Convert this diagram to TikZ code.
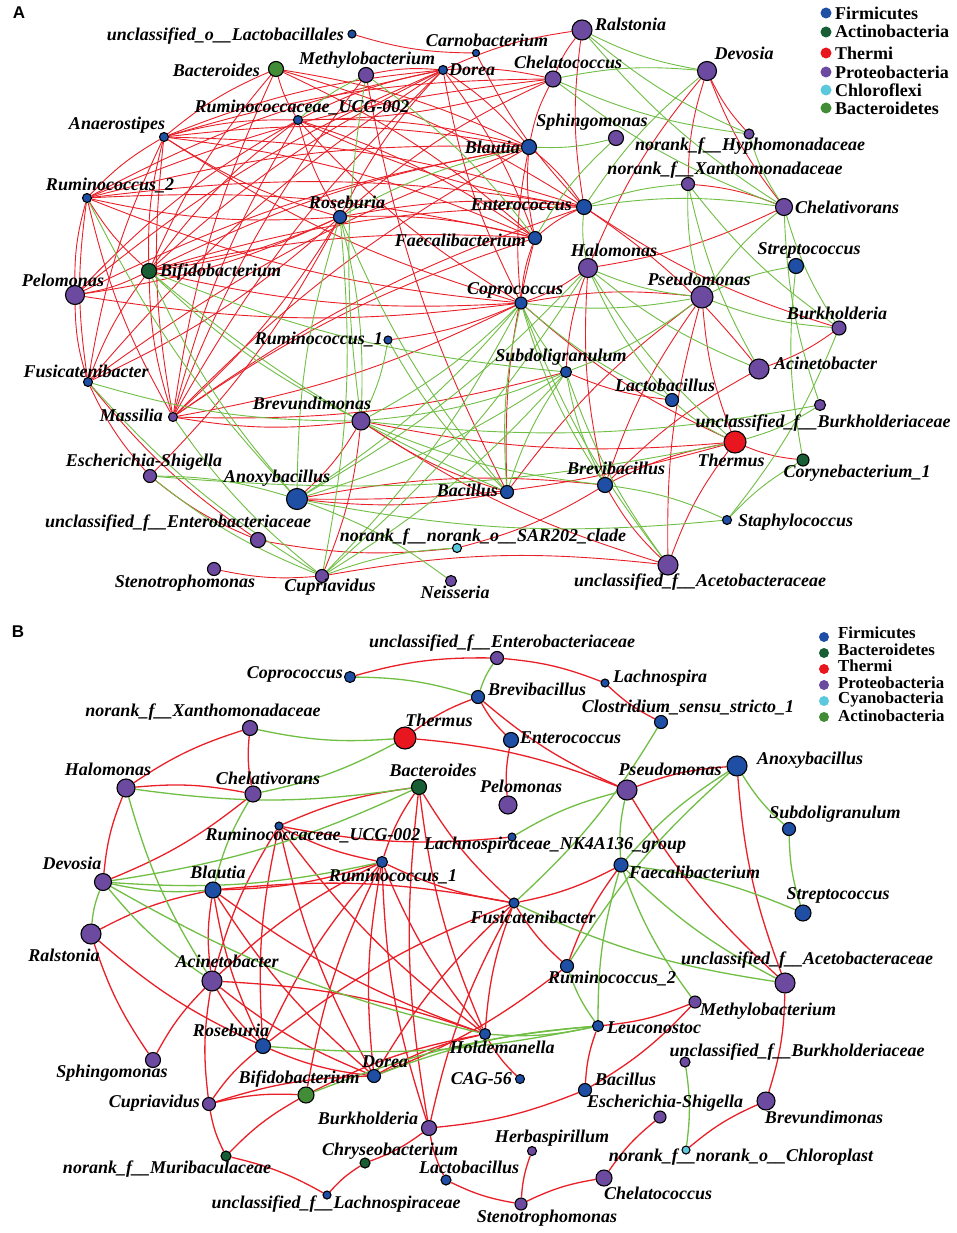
\documentclass[tikz,border=0pt]{standalone}
\usepackage{fontspec}
\setmainfont{Liberation Serif}
\newfontfamily\panelfont{Liberation Sans}
\definecolor{redE}{RGB}{234,32,40}
\definecolor{grnE}{RGB}{112,190,68}
\definecolor{cFir}{RGB}{31,78,165}
\definecolor{cPro}{RGB}{107,74,160}
\definecolor{cThe}{RGB}{232,22,30}
\definecolor{cActD}{RGB}{24,94,52}
\definecolor{cBacL}{RGB}{66,140,56}
\definecolor{cCya}{RGB}{92,200,222}
\pgfdeclarelayer{paper}
\pgfdeclarelayer{edges}
\pgfsetlayers{paper,edges,main}
\tikzset{
 gnode/.style={circle,draw=black,line width=1.1pt,inner sep=0pt},
 fir/.style={gnode,fill=cFir}, pro/.style={gnode,fill=cPro}, the/.style={gnode,fill=cThe},
 actd/.style={gnode,fill=cActD}, bacl/.style={gnode,fill=cBacL}, cya/.style={gnode,fill=cCya},
 lab/.style={font=\fontsize{18}{20}\selectfont\bfseries\itshape, inner sep=0pt},
 leg/.style={font=\fontsize{18}{20}\selectfont\bfseries, inner sep=0pt, anchor=west},
 legb/.style={font=\fontsize{16.8}{17}\selectfont\bfseries, inner sep=0pt, anchor=west},
 ldot/.style={circle,inner sep=0pt,minimum size=11pt},
 plab/.style={font=\panelfont\fontsize{17}{18}\selectfont\bfseries, inner sep=0pt},
 rA/.style={draw=redE,line width=0.9pt,bend right=8},
 gA/.style={draw=grnE,line width=0.9pt,bend right=8},
 rB/.style={draw=redE,line width=1.3pt,bend right=8},
 gB/.style={draw=grnE,line width=1.3pt,bend right=8},
}
\begin{document}
\begin{tikzpicture}[x=1pt,y=-1pt]
\useasboundingbox (0,0) rectangle (957,1233);
\begin{pgfonlayer}{paper}
\fill[white] (0,0) rectangle (957,1233);
\end{pgfonlayer}
\node[plab] (pA) at (19,13) {A};
\node[plab] (pB) at (18,632) {B};
% ---------------- Panel A nodes ----------------
\node[fir,minimum size=8pt] (aLac) at (352,34) {};
\node[fir,minimum size=7pt] (aCarn) at (476,53) {};
\node[bacl,minimum size=15pt] (aBact) at (276,69) {};
\node[pro,minimum size=15pt] (aMeth) at (366,75) {};
\node[fir,minimum size=9pt] (aDor) at (443,70) {};
\node[pro,minimum size=20pt] (aRal) at (582,30) {};
\node[pro,minimum size=16pt] (aChelo) at (553,79) {};
\node[pro,minimum size=19pt] (aDev) at (707,71) {};
\node[pro,minimum size=10pt] (aHyph) at (749,134) {};
\node[pro,minimum size=13pt] (aXan) at (688,184) {};
\node[pro,minimum size=17pt] (aChelv) at (784,207) {};
\node[fir,minimum size=15pt] (aStrep) at (796,266) {};
\node[pro,minimum size=15pt] (aSph) at (616,138) {};
\node[fir,minimum size=15pt] (aBlau) at (529,147) {};
\node[fir,minimum size=15pt] (aEnt) at (584,207) {};
\node[fir,minimum size=13pt] (aFae) at (535,238) {};
\node[pro,minimum size=19pt] (aHal) at (588,268) {};
\node[pro,minimum size=22pt] (aPse) at (702,297) {};
\node[fir,minimum size=12pt] (aCop) at (521,303) {};
\node[pro,minimum size=14pt] (aBur) at (839,328) {};
\node[pro,minimum size=20pt] (aAci) at (759,369) {};
\node[fir,minimum size=11pt] (aSub) at (566,372) {};
\node[fir,minimum size=13pt] (aLacb) at (672,400) {};
\node[pro,minimum size=11pt] (aBurc) at (820,405) {};
\node[the,minimum size=22pt] (aTher) at (735,442) {};
\node[actd,minimum size=12pt] (aCory) at (803,460) {};
\node[fir,minimum size=15pt] (aBrvb) at (605,485) {};
\node[fir,minimum size=13pt] (aBac) at (507,492) {};
\node[fir,minimum size=9pt] (aStaph) at (727,520) {};
\node[pro,minimum size=20pt] (aAcet) at (668,565) {};
\node[pro,minimum size=11pt] (aNeis) at (451,581) {};
\node[cya,minimum size=9pt] (aSAR) at (457,548) {};
\node[pro,minimum size=13pt] (aCup) at (322,576) {};
\node[pro,minimum size=13pt] (aSten) at (214,569) {};
\node[pro,minimum size=15pt] (aEnb) at (258,540) {};
\node[fir,minimum size=21pt] (aAnox) at (297,499) {};
\node[pro,minimum size=13pt] (aEsch) at (150,476) {};
\node[pro,minimum size=9pt] (aMass) at (173,417) {};
\node[pro,minimum size=18pt] (aBrvd) at (361,421) {};
\node[fir,minimum size=9pt] (aFus) at (88,382) {};
\node[fir,minimum size=8pt] (aRum1) at (388,340) {};
\node[pro,minimum size=19pt] (aPel) at (75,295) {};
\node[actd,minimum size=15pt] (aBif) at (149,271) {};
\node[fir,minimum size=13pt] (aRos) at (340,217) {};
\node[fir,minimum size=9pt] (aRum2) at (87,198) {};
\node[fir,minimum size=9pt] (aAna) at (164,137) {};
\node[fir,minimum size=9pt] (aUCG) at (298,120) {};
% ---------------- Panel A labels ----------------
\node[lab,anchor=east] (aLac-l) at (344,36) {unclassified\_o\_\_Lactobacillales};
\node[lab] (aCarn-l) at (487,40) {Carnobacterium};
\node[lab,anchor=east] (aBact-l) at (260,70) {Bacteroides};
\node[lab] (aMeth-l) at (367,60) {Methylobacterium};
\node[lab,anchor=west] (aDor-l) at (449,70) {Dorea};
\node[lab,anchor=west] (aRal-l) at (595,24) {Ralstonia};
\node[lab] (aChelo-l) at (568,62) {Chelatococcus};
\node[lab] (aDev-l) at (744,53) {Devosia};
\node[lab] (aHyph-l) at (750,146) {norank\_f\_\_Hyphomonadaceae};
\node[lab] (aXan-l) at (725,170) {norank\_f\_\_Xanthomonadaceae};
\node[lab,anchor=west] (aChelv-l) at (795,207) {Chelativorans};
\node[lab] (aStrep-l) at (809,250) {Streptococcus};
\node[lab] (aSph-l) at (592,122) {Sphingomonas};
\node[lab,anchor=east] (aBlau-l) at (520,147) {Blautia};
\node[lab,anchor=east] (aEnt-l) at (572,205) {Enterococcus};
\node[lab,anchor=east] (aFae-l) at (526,240) {Faecalibacterium};
\node[lab] (aHal-l) at (614,250) {Halomonas};
\node[lab] (aPse-l) at (699,279) {Pseudomonas};
\node[lab] (aCop-l) at (515,290) {Coprococcus};
\node[lab] (aBur-l) at (837,313) {Burkholderia};
\node[lab,anchor=west] (aAci-l) at (774,363) {Acinetobacter};
\node[lab] (aSub-l) at (561,357) {Subdoligranulum};
\node[lab] (aLacb-l) at (665,385) {Lactobacillus};
\node[lab] (aBurc-l) at (823,423) {unclassified\_f\_\_Burkholderiaceae};
\node[lab] (aTher-l) at (731,460) {Thermus};
\node[lab] (aCory-l) at (857,473) {Corynebacterium\_1};
\node[lab] (aBrvb-l) at (616,468) {Brevibacillus};
\node[lab,anchor=east] (aBac-l) at (498,490) {Bacillus};
\node[lab,anchor=west] (aStaph-l) at (738,522) {Staphylococcus};
\node[lab] (aAcet-l) at (700,582) {unclassified\_f\_\_Acetobacteraceae};
\node[lab] (aNeis-l) at (455,592) {Neisseria};
\node[lab] (aSAR-l) at (483,537) {norank\_f\_\_norank\_o\_\_SAR202\_clade};
\node[lab] (aCup-l) at (330,587) {Cupriavidus};
\node[lab] (aSten-l) at (185,583) {Stenotrophomonas};
\node[lab] (aEnb-l) at (178,523) {unclassified\_f\_\_Enterobacteriaceae};
\node[lab] (aAnox-l) at (277,478) {Anoxybacillus};
\node[lab] (aEsch-l) at (144,462) {Escherichia-Shigella};
\node[lab,anchor=east] (aMass-l) at (163,415) {Massilia};
\node[lab] (aBrvd-l) at (312,403) {Brevundimonas};
\node[lab] (aFus-l) at (86,371) {Fusicatenibacter};
\node[lab,anchor=east] (aRum1-l) at (383,340) {Ruminococcus\_1};
\node[lab] (aPel-l) at (63,280) {Pelomonas};
\node[lab,anchor=west] (aBif-l) at (160,272) {Bifidobacterium};
\node[lab] (aRos-l) at (347,202) {Roseburia};
\node[lab] (aRum2-l) at (110,186) {Ruminococcus\_2};
\node[lab] (aAna-l) at (117,125) {Anaerostipes};
\node[lab] (aUCG-l) at (302,108) {Ruminococcaceae\_UCG-002};
% legend A
\node[ldot,fill=cFir] (lA1) at (826,13) {}; \node[leg] (lA1t) at (835,13) {Firmicutes};
\node[ldot,fill=cActD] (lA2) at (826,32) {}; \node[leg] (lA2t) at (835,31) {Actinobacteria};
\node[ldot,fill=cThe] (lA3) at (826,53) {}; \node[leg] (lA3t) at (835,53) {Thermi};
\node[ldot,fill=cPro] (lA4) at (826,72) {}; \node[leg] (lA4t) at (835,72) {Proteobacteria};
\node[ldot,fill=cCya] (lA5) at (826,90) {}; \node[leg] (lA5t) at (835,90) {Chloroflexi};
\node[ldot,fill=cBacL] (lA6) at (826,108) {}; \node[leg] (lA6t) at (835,108) {Bacteroidetes};
% ---------------- Panel B nodes ----------------
\node[pro,minimum size=13pt] (bEnb) at (497,658) {};
\node[fir,minimum size=11pt] (bCop) at (350,677) {};
\node[fir,minimum size=8pt] (bLachn) at (605,683) {};
\node[fir,minimum size=13pt] (bBrvb) at (478,697) {};
\node[pro,minimum size=15pt] (bXan) at (250,728) {};
\node[the,minimum size=22pt] (bTher) at (405,738) {};
\node[fir,minimum size=13pt] (bClos) at (661,722) {};
\node[fir,minimum size=15pt] (bEnt) at (511,740) {};
\node[pro,minimum size=18pt] (bHal) at (126,788) {};
\node[pro,minimum size=16pt] (bChelv) at (253,794) {};
\node[actd,minimum size=15pt] (bBact) at (419,787) {};
\node[pro,minimum size=18pt] (bPel) at (508,805) {};
\node[pro,minimum size=20pt] (bPse) at (627,790) {};
\node[fir,minimum size=20pt] (bAnox) at (737,766) {};
\node[fir,minimum size=8pt] (bUCG) at (279,826) {};
\node[fir,minimum size=8pt] (bLNK) at (512,837) {};
\node[fir,minimum size=13pt] (bSub) at (789,829) {};
\node[fir,minimum size=11pt] (bRum1) at (382,862) {};
\node[fir,minimum size=14pt] (bFae) at (621,865) {};
\node[pro,minimum size=17pt] (bDev) at (103,882) {};
\node[fir,minimum size=16pt] (bBlau) at (213,890) {};
\node[fir,minimum size=10pt] (bFus) at (514,903) {};
\node[fir,minimum size=16pt] (bStrep) at (803,913) {};
\node[pro,minimum size=20pt] (bRal) at (91,934) {};
\node[pro,minimum size=20pt] (bAci) at (212,981) {};
\node[fir,minimum size=13pt] (bRum2) at (567,966) {};
\node[pro,minimum size=20pt] (bAcet) at (785,983) {};
\node[pro,minimum size=12pt] (bMeth) at (695,1002) {};
\node[fir,minimum size=11pt] (bLeu) at (598,1026) {};
\node[fir,minimum size=11pt] (bHold) at (485,1034) {};
\node[fir,minimum size=15pt] (bRos) at (263,1046) {};
\node[fir,minimum size=13pt] (bDor) at (374,1076) {};
\node[pro,minimum size=10pt] (bBurc) at (685,1062) {};
\node[fir,minimum size=9pt] (bCAG) at (520,1079) {};
\node[bacl,minimum size=16pt] (bBif) at (306,1095) {};
\node[fir,minimum size=13pt] (bBac) at (585,1090) {};
\node[pro,minimum size=12pt] (bEsch) at (660,1117) {};
\node[pro,minimum size=13pt] (bCup) at (209,1104) {};
\node[pro,minimum size=18pt] (bBrvd) at (766,1101) {};
\node[pro,minimum size=15pt] (bSph) at (153,1060) {};
\node[pro,minimum size=15pt] (bBur) at (429,1128) {};
\node[pro,minimum size=9pt] (bHerb) at (532,1151) {};
\node[actd,minimum size=10pt] (bChry) at (365,1163) {};
\node[cya,minimum size=8pt] (bChlo) at (686,1150) {};
\node[actd,minimum size=10pt] (bMur) at (226,1156) {};
\node[fir,minimum size=10pt] (bLacb) at (446,1180) {};
\node[pro,minimum size=16pt] (bChelo) at (604,1178) {};
\node[fir,minimum size=8pt] (bLachs) at (327,1195) {};
\node[pro,minimum size=12pt] (bSten) at (521,1204) {};
% ---------------- Panel B labels ----------------
\node[lab] (bEnb-l) at (502,643) {unclassified\_f\_\_Enterobacteriaceae};
\node[lab,anchor=east] (bCop-l) at (343,674) {Coprococcus};
\node[lab,anchor=west] (bLachn-l) at (613,678) {Lachnospira};
\node[lab,anchor=west] (bBrvb-l) at (488,689) {Brevibacillus};
\node[lab] (bXan-l) at (203,712) {norank\_f\_\_Xanthomonadaceae};
\node[lab] (bTher-l) at (439,720) {Thermus};
\node[lab] (bClos-l) at (688,708) {Clostridium\_sensu\_stricto\_1};
\node[lab,anchor=west] (bEnt-l) at (520,738) {Enterococcus};
\node[lab] (bHal-l) at (108,769) {Halomonas};
\node[lab] (bChelv-l) at (268,778) {Chelativorans};
\node[lab] (bBact-l) at (433,770) {Bacteroides};
\node[lab] (bPel-l) at (521,786) {Pelomonas};
\node[lab] (bPse-l) at (670,769) {Pseudomonas};
\node[lab,anchor=west] (bAnox-l) at (757,760) {Anoxybacillus};
\node[lab] (bUCG-l) at (313,835) {Ruminococcaceae\_UCG-002};
\node[lab] (bLNK-l) at (555,845) {Lachnospiraceae\_NK4A136\_group};
\node[lab] (bSub-l) at (835,814) {Subdoligranulum};
\node[lab] (bRum1-l) at (393,876) {Ruminococcus\_1};
\node[lab,anchor=west] (bFae-l) at (629,872) {Faecalibacterium};
\node[lab] (bDev-l) at (72,863) {Devosia};
\node[lab] (bBlau-l) at (218,872) {Blautia};
\node[lab] (bFus-l) at (533,917) {Fusicatenibacter};
\node[lab] (bStrep-l) at (838,895) {Streptococcus};
\node[lab] (bRal-l) at (64,955) {Ralstonia};
\node[lab] (bAci-l) at (227,961) {Acinetobacter};
\node[lab] (bRum2-l) at (612,978) {Ruminococcus\_2};
\node[lab] (bAcet-l) at (807,960) {unclassified\_f\_\_Acetobacteraceae};
\node[lab,anchor=west] (bMeth-l) at (700,1011) {Methylobacterium};
\node[lab,anchor=west] (bLeu-l) at (607,1028) {Leuconostoc};
\node[lab] (bHold-l) at (502,1047) {Holdemanella};
\node[lab] (bRos-l) at (231,1030) {Roseburia};
\node[lab] (bDor-l) at (385,1062) {Dorea};
\node[lab] (bBurc-l) at (797,1052) {unclassified\_f\_\_Burkholderiaceae};
\node[lab,anchor=east] (bCAG-l) at (512,1079) {CAG-56};
\node[lab] (bBif-l) at (299,1079) {Bifidobacterium};
\node[lab,anchor=west] (bBac-l) at (595,1079) {Bacillus};
\node[lab] (bEsch-l) at (665,1103) {Escherichia-Shigella};
\node[lab,anchor=east] (bCup-l) at (200,1103) {Cupriavidus};
\node[lab] (bBrvd-l) at (824,1117) {Brevundimonas};
\node[lab] (bSph-l) at (112,1073) {Sphingomonas};
\node[lab] (bBur-l) at (368,1118) {Burkholderia};
\node[lab] (bHerb-l) at (552,1138) {Herbaspirillum};
\node[lab] (bChry-l) at (390,1151) {Chryseobacterium};
\node[lab] (bChlo-l) at (741,1157) {norank\_f\_\_norank\_o\_\_Chloroplast};
\node[lab] (bMur-l) at (167,1169) {norank\_f\_\_Muribaculaceae};
\node[lab] (bLacb-l) at (469,1167) {Lactobacillus};
\node[lab] (bChelo-l) at (658,1193) {Chelatococcus};
\node[lab] (bLachs-l) at (336,1204) {unclassified\_f\_\_Lachnospiraceae};
\node[lab] (bSten-l) at (547,1218) {Stenotrophomonas};
% legend B
\node[ldot,minimum size=10pt,fill=cFir] (lB1) at (824,637) {}; \node[legb] (lB1t) at (838,633) {Firmicutes};
\node[ldot,minimum size=10pt,fill=cActD] (lB2) at (824,653) {}; \node[legb] (lB2t) at (838,650) {Bacteroidetes};
\node[ldot,minimum size=10pt,fill=cThe] (lB3) at (824,669) {}; \node[legb] (lB3t) at (838,666) {Thermi};
\node[ldot,minimum size=10pt,fill=cPro] (lB4) at (824,685) {}; \node[legb] (lB4t) at (838,682.5) {Proteobacteria};
\node[ldot,minimum size=10pt,fill=cCya] (lB5) at (824,701) {}; \node[legb] (lB5t) at (838,699.5) {Cyanobacteria};
\node[ldot,minimum size=10pt,fill=cBacL] (lB6) at (824,717) {}; \node[legb] (lB6t) at (838,716) {Actinobacteria};
% ---------------- Edges ----------------
\begin{pgfonlayer}{edges}
\foreach \u/\v in {aLac/aCarn, aCarn/aEnt, aRal/aDor, aRal/aChelo, aRal/aEnt, aChelo/aDor, aChelo/aBlau, aChelo/aRos, aChelo/aRum2, aChelo/aAna,
 aDev/aHal, aDev/aXan, aDev/aChelv, aDev/aHyph, aChelv/aXan, aHal/aChelv, aEnt/aBlau, aEnt/aFae, aEnt/aBur, aEnt/aBact, aEnt/aAna, aEnt/aRum2, aEnt/aRos, aEnt/aMass, aEnt/aBif,
 aBlau/aDor, aBlau/aBact, aBlau/aUCG, aBlau/aAna, aBlau/aRum2, aBlau/aPel, aBlau/aMass, aBlau/aBif, aBlau/aFae, aBlau/aCop, aBlau/aFus,
 aFae/aDor, aFae/aUCG, aFae/aAna, aFae/aRum2, aFae/aRos, aFae/aBif, aFae/aMass, aFae/aBact, aFae/aCop, aFae/aBac,
 aDor/aMeth, aDor/aUCG, aDor/aAna, aDor/aRum2, aDor/aPel, aDor/aRos, aDor/aBif, aDor/aMass, aDor/aFus, aDor/aCop, aMeth/aBac, aMeth/aMass,
 aBact/aAna, aBact/aBif, aBact/aMass, aBact/aUCG, aUCG/aAna, aUCG/aRos, aUCG/aBif, aUCG/aMass, aUCG/aPel, aUCG/aCop, aUCG/aEnt, aUCG/aChelo,
 aAna/aRum2, aAna/aBif, aAna/aMass, aAna/aRos, aAna/aCop, aAna/aFus, aRum2/aPel, aRum2/aFus, aRum2/aMass, aRum2/aBif, aRum2/aRos, aRum2/aCop,
 aPel/aFus, aPel/aBif, aPel/aRos, aPel/aCop, aBif/aRos, aBif/aFus, aBif/aMass, aBif/aCop, aFus/aEsch, aFus/aEnb, aFus/aRos,
 aMass/aRos, aMass/aCop, aMass/aBrvd, aMass/aSub, aEsch/aRos, aEsch/aEnb, aEnb/aSAR, aSten/aCup, aAcet/aCup, aCup/aBrvd, aSAR/aBrvb,
 aAnox/aBrvd, aAnox/aBac, aAnox/aTher, aBrvb/aAnox, aBrvd/aTher, aBrvd/aBac, aBrvd/aAcet, aRum1/aCop, aCop/aHal, aPse/aCop, aCop/aTher,
 aHal/aSub, aHal/aBrvb, aPse/aBac, aPse/aBrvb, aPse/aAcet, aPse/aTher, aSub/aLacb, aTher/aCory, aTher/aBrvb, aTher/aAcet, aAci/aBrvb, aAci/aBur, aAci/aEnt, aBrvb/aAcet}
 \draw[rA] (\u) to (\v);
\foreach \u/\v in {aRal/aDev, aRal/aHyph, aRal/aChelv, aDev/aChelo, aChelo/aChelv, aChelo/aHyph, aDev/aEnt, aHyph/aChelv, aChelv/aBur, aChelv/aBurc,
 aXan/aEnt, aXan/aPse, aXan/aAci, aXan/aBur, aChelv/aEnt, aChelv/aPse, aStrep/aCory, aStaph/aBur, aCory/aStaph, aStaph/aBrvb, aAnox/aStaph, aStrep/aPse,
 aBlau/aSph, aSph/aFae, aEnt/aHal, aBlau/aRos, aFae/aMeth, aMeth/aUCG, aMeth/aBrvd, aRum2/aAnox, aBif/aAnox, aBif/aBrvd, aBif/aSub, aBif/aBac,
 aFus/aBrvd, aFus/aCup, aMass/aCup, aAnox/aEsch, aEsch/aTher, aEsch/aCup, aCup/aRos, aCup/aCop, aCup/aSub, aCup/aHal, aSAR/aCup, aNeis/aAnox,
 aAnox/aCop, aAnox/aSub, aAnox/aHal, aBrvd/aRum1, aBrvd/aRos, aBrvd/aCop, aBrvd/aSub, aBrvd/aBrvb, aRum1/aBac, aRos/aBac, aRos/aAnox,
 aCop/aSub, aCop/aBac, aCop/aBrvb, aCop/aAcet, aCop/aLacb, aCop/aPse, aHal/aPse, aHal/aLacb, aHal/aTher, aHal/aAci, aPse/aBur, aSub/aPse,
 aSub/aBac, aSub/aBrvb, aSub/aAcet, aLacb/aTher, aTher/aBurc, aBrvd/aBurc}
 \draw[gA] (\u) to (\v);
\foreach \u/\v in {bEnb/bCop, bLachn/bEnb, bLachn/bClos, bBrvb/bTher, bBrvb/bEnt, bBrvb/bPse, bEnt/bPel, bPse/bTher, bXan/bHal, bXan/bChelv,
 bChelv/bHal, bHal/bDev, bDev/bChelv, bBact/bUCG, bBact/bRum1, bBact/bFus, bBact/bHold, bBact/bBur, bUCG/bLNK, bUCG/bRum1, bUCG/bRos, bUCG/bDor,
 bUCG/bHold, bUCG/bAci, bBlau/bRum1, bRum1/bFus, bRum1/bHold, bRum1/bDor, bRum1/bRos, bRum1/bAci, bRum1/bBur, bRum1/bBif,
 bFus/bBlau, bBlau/bHold, bBlau/bRos, bBlau/bAci, bBlau/bRal, bBlau/bDor, bFus/bFae, bFus/bRum2, bFus/bHold, bFus/bRos, bFus/bDor, bFus/bBur,
 bAnox/bPse, bPse/bAcet, bAnox/bAcet, bFae/bRum2, bDor/bRum2, bLeu/bMeth, bLeu/bBac, bBac/bMeth, bBur/bBac, bHold/bCAG, bHold/bDor, bHold/bAci,
 bHold/bBif, bAci/bSph, bAci/bCup, bAci/bRos, bAci/bDor, bRal/bRos, bRal/bSph, bRos/bCup, bRos/bDor, bDor/bCup, bBif/bCup, bBif/bMur, bCup/bMur,
 bLachs/bMur, bChry/bLachs, bChry/bBur, bBur/bLacb, bLacb/bSten, bHerb/bSten, bChelo/bSten, bEsch/bChelo, bBrvd/bChlo, bBrvd/bAcet}
 \draw[rB] (\u) to (\v);
\foreach \u/\v in {bBrvb/bCop, bEnb/bBrvb, bXan/bTher, bChelv/bTher, bHal/bBact, bHal/bAci, bChelv/bBlau, bDev/bBact, bDev/bRum1, bDev/bBlau,
 bDev/bRal, bDev/bHold, bDev/bAci, bFus/bClos, bFus/bAcet, bPse/bLNK, bPse/bFae, bAnox/bFae, bAnox/bRum2, bAnox/bSub, bSub/bStrep,
 bFae/bLeu, bFae/bMeth, bFae/bAcet, bStrep/bFae, bRum2/bLeu, bHold/bLeu, bRos/bLeu, bLeu/bDor, bLeu/bBif, bChlo/bBurc}
 \draw[gB] (\u) to (\v);
\end{pgfonlayer}
\end{tikzpicture}
\end{document}
